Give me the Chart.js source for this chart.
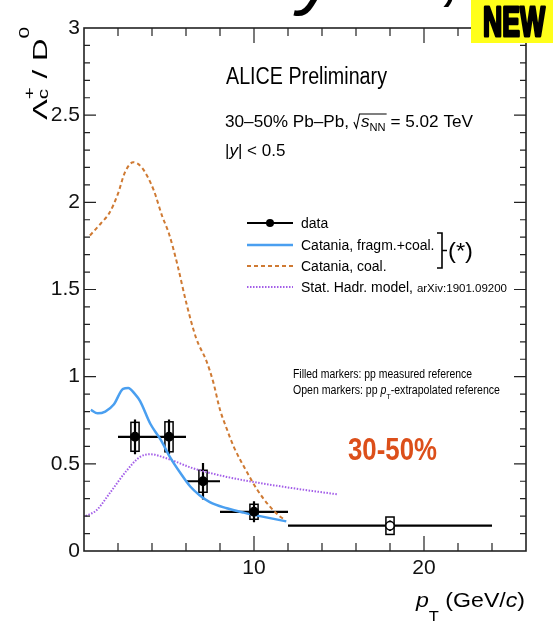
<!DOCTYPE html>
<html>
<head>
<meta charset="utf-8">
<script src="https://cdn.jsdelivr.net/npm/chart.js@4.4.1/dist/chart.umd.min.js"></script>
<style>
  html, body { margin: 0; padding: 0; background: #fff; }
  #wrap { width: 559px; height: 625px; position: relative; }
</style>
</head>
<body>
<div id="wrap"><canvas id="ratioChart"></canvas></div>
<script>
// measured Lambda_c+/D0, 30-50% Pb-Pb
const ptCenter = [3, 5, 7, 10, 18];
const ptLow = [2, 4, 6, 8, 12];
const ptHigh = [4, 6, 8, 12, 24];
const ratio = [0.655, 0.655, 0.40, 0.225, 0.145];
const statErr = [0.10, 0.10, 0.105, 0.06, 0.03];
const systErr = [0.083, 0.086, 0.063, 0.043, 0.05];
const extrapolatedRef = [false, false, false, false, true];

// Catania, fragmentation + coalescence
const fragCoalPt = [0.4, 0.8, 1.25, 1.75, 2.3, 2.6, 3.0, 3.3, 3.9, 4.5, 5.05, 5.65, 6.25, 6.8, 7.4, 8.4, 9.4, 10.35, 11.9];
const fragCoalRatio = [0.81, 0.79, 0.80, 0.84, 0.93, 0.935, 0.90, 0.86, 0.73, 0.64, 0.54, 0.45, 0.37, 0.32, 0.28, 0.245, 0.22, 0.20, 0.17];

// Catania, coalescence only
const coalPt = [0.35, 1.0, 1.5, 2.0, 2.4, 2.9, 3.4, 4.1, 4.6, 5.0, 5.5, 6.0, 6.6, 7.2, 7.6, 8.0, 8.4, 8.8, 9.6, 10.2, 10.8, 11.5, 11.8];
const coalRatio = [1.81, 1.88, 1.94, 2.05, 2.17, 2.23, 2.20, 2.07, 1.92, 1.82, 1.64, 1.43, 1.22, 1.09, 0.97, 0.81, 0.70, 0.60, 0.45, 0.35, 0.27, 0.20, 0.18];

// Stat. hadronisation model
const shmPt = [0.1, 0.75, 1.5, 2.5, 3.3, 3.9, 4.9, 6.4, 8.4, 10.35, 12.3, 14.9];
const shmRatio = [0.20, 0.235, 0.33, 0.46, 0.54, 0.555, 0.53, 0.475, 0.425, 0.39, 0.36, 0.325];

const xMajorTicks = [10, 20];
const yMajorTicks = [0, 0.5, 1, 1.5, 2, 2.5, 3];

const FONT = '"Liberation Sans", Arial, sans-serif';
const fragCoalColor = '#4a9ff0';
const coalColor = '#cf7a33';
const shmColor = '#a35ee8';

const xy = (xs, ys) => xs.map((x, i) => ({x: x, y: ys[i]}));

// text made of pieces with their own font / vertical shift, optionally squeezed to a width
function drawRich(ctx, x, y, parts, fitWidth) {
    let natural = 0;
    parts.forEach(p => {
        if (p.rad) { p.w = p.rad; }
        else { ctx.font = p.font; p.w = ctx.measureText(p.text).width; }
        if (p.adv !== undefined) p.w = p.adv;
        natural += p.w;
    });
    const sx = fitWidth ? fitWidth / natural : 1;
    ctx.save();
    ctx.translate(x, y);
    ctx.scale(sx, 1);
    ctx.textBaseline = 'alphabetic';
    ctx.textAlign = 'left';
    let cx = 0;
    parts.forEach((p, i) => {
        if (p.rad) {
            let over = 0;
            for (let k = 1; k <= p.span; k++) over += parts[i + k].w;
            ctx.strokeStyle = '#000';
            ctx.lineWidth = 1.1;
            ctx.beginPath();
            ctx.moveTo(cx, -5);
            ctx.lineTo(cx + 2.5, 1);
            ctx.lineTo(cx + 5.5, -13);
            ctx.lineTo(cx + p.rad + over + 1, -13);
            ctx.stroke();
        } else {
            ctx.font = p.font;
            ctx.fillStyle = p.color || '#000';
            ctx.fillText(p.text, cx, p.dy || 0);
        }
        cx += p.w;
    });
    ctx.restore();
}

// ROOT-like frame with inward ticks on all four sides
const rootFrame = {
    id: 'rootFrame',
    afterDatasetsDraw(chart) {
        const {ctx, chartArea: a, scales: {x, y}} = chart;
        ctx.save();
        ctx.strokeStyle = '#222';
        ctx.lineWidth = 1.2;
        ctx.beginPath();
        x.ticks.forEach(t => {
            const px = x.getPixelForValue(t.value);
            if (px <= a.left + 1 || px >= a.right - 1) return;
            const len = xMajorTicks.includes(t.value) ? 15 : 8;
            ctx.moveTo(px, a.bottom); ctx.lineTo(px, a.bottom - len);
            ctx.moveTo(px, a.top); ctx.lineTo(px, a.top + len);
        });
        y.ticks.forEach(t => {
            const py = y.getPixelForValue(t.value);
            if (py <= a.top + 1 || py >= a.bottom - 1) return;
            const major = yMajorTicks.includes(Math.round(t.value * 10) / 10);
            const len = major ? 12 : 6;
            ctx.moveTo(a.left, py); ctx.lineTo(a.left + len, py);
            ctx.moveTo(a.right, py); ctx.lineTo(a.right - len, py);
        });
        ctx.stroke();
        ctx.lineWidth = 1.6;
        ctx.strokeRect(a.left, a.top, a.right - a.left, a.bottom - a.top);
        ctx.restore();
    }
};

// bin widths, statistical bars and systematic boxes of the data points
const boxHalfWidth = 0.24;
const dataErrors = {
    id: 'dataErrors',
    beforeDatasetsDraw(chart) {
        const {ctx, scales: {x, y}} = chart;
        ctx.save();
        ctx.strokeStyle = '#000';
        ptCenter.forEach((pt, i) => {
            const cx = x.getPixelForValue(pt);
            const cy = y.getPixelForValue(ratio[i]);
            ctx.lineWidth = 2.2;
            ctx.beginPath();
            ctx.moveTo(x.getPixelForValue(ptLow[i]), cy);
            ctx.lineTo(x.getPixelForValue(ptHigh[i]), cy);
            ctx.moveTo(cx, y.getPixelForValue(ratio[i] - statErr[i]));
            ctx.lineTo(cx, y.getPixelForValue(ratio[i] + statErr[i]));
            ctx.stroke();
            const bx0 = x.getPixelForValue(pt - boxHalfWidth);
            const bx1 = x.getPixelForValue(pt + boxHalfWidth);
            const by0 = y.getPixelForValue(ratio[i] + systErr[i]);
            const by1 = y.getPixelForValue(ratio[i] - systErr[i]);
            ctx.lineWidth = 1.5;
            ctx.strokeRect(bx0, by0, bx1 - bx0, by1 - by0);
        });
        ctx.restore();
    }
};

// legend, labels, axis titles
const annotations = {
    id: 'annotations',
    afterDraw(chart) {
        const ctx = chart.ctx;
        const F = (s, style) => (style ? style + ' ' : '') + s + 'px ' + FONT;

        drawRich(ctx, 226, 84, [{text: 'ALICE Preliminary', font: F(23)}], 161);
        drawRich(ctx, 225, 127, [
            {text: '30\u201350% Pb\u2013Pb, ', font: F(17)},
            {rad: 7, span: 2},
            {text: 's', font: F(17, 'italic')},
            {text: 'NN', font: F(11), dy: 4},
            {text: ' = 5.02 TeV', font: F(17)}
        ], 248);
        drawRich(ctx, 225, 156, [
            {text: '|', font: F(17)},
            {text: 'y', font: F(17, 'italic')},
            {text: '| < 0.5', font: F(17)}
        ]);

        // legend
        const rows = [223, 245, 266, 287];
        const lx0 = 247, lx1 = 293;
        ctx.save();
        ctx.lineWidth = 2;
        ctx.strokeStyle = '#000';
        ctx.beginPath(); ctx.moveTo(lx0, rows[0]); ctx.lineTo(lx1, rows[0]); ctx.stroke();
        ctx.fillStyle = '#000';
        ctx.beginPath(); ctx.arc((lx0 + lx1) / 2, rows[0], 4, 0, Math.PI * 2); ctx.fill();
        ctx.lineWidth = 2.5;
        ctx.strokeStyle = fragCoalColor;
        ctx.beginPath(); ctx.moveTo(lx0, rows[1]); ctx.lineTo(lx1, rows[1]); ctx.stroke();
        ctx.lineWidth = 2;
        ctx.strokeStyle = coalColor;
        ctx.setLineDash([4, 3]);
        ctx.beginPath(); ctx.moveTo(lx0, rows[2]); ctx.lineTo(lx1, rows[2]); ctx.stroke();
        ctx.strokeStyle = shmColor;
        ctx.setLineDash([1.5, 1.5]);
        ctx.beginPath(); ctx.moveTo(lx0, rows[3]); ctx.lineTo(lx1, rows[3]); ctx.stroke();
        ctx.setLineDash([]);
        ctx.restore();

        const tx = 301;
        drawRich(ctx, tx, rows[0] + 5, [{text: 'data', font: F(14)}]);
        drawRich(ctx, tx, rows[1] + 5, [{text: 'Catania, fragm.+coal.', font: F(14)}]);
        drawRich(ctx, tx, rows[2] + 5, [{text: 'Catania, coal.', font: F(14)}]);
        drawRich(ctx, tx, rows[3] + 5, [
            {text: 'Stat. Hadr. model, ', font: F(14)},
            {text: 'arXiv:1901.09200', font: F(11.5)}
        ], 206);

        // bracket grouping the two Catania curves
        ctx.save();
        ctx.strokeStyle = '#000';
        ctx.lineWidth = 1.6;
        ctx.beginPath();
        ctx.moveTo(437, 233); ctx.lineTo(442, 233); ctx.lineTo(442, 268); ctx.lineTo(437, 268);
        ctx.moveTo(442, 250.5); ctx.lineTo(447, 250.5);
        ctx.stroke();
        ctx.restore();
        drawRich(ctx, 448, 258, [{text: '(*)', font: F(22)}], 25);

        drawRich(ctx, 293, 378, [{text: 'Filled markers: pp measured reference', font: F(12)}], 179);
        drawRich(ctx, 293, 394, [
            {text: 'Open markers: pp ', font: F(12)},
            {text: 'p', font: F(12, 'italic')},
            {text: 'T', font: F(8), dy: 5},
            {text: '-extrapolated reference', font: F(12)}
        ], 207);

        drawRich(ctx, 348, 460, [{text: '30-50%', font: F(31, 'bold'), color: '#dc4f1a'}], 89);

        // axis titles
        drawRich(ctx, 416, 607, [
            {text: 'p', font: F(21, 'italic')},
            {text: 'T', font: F(15), dy: 14},
            {text: ' (GeV/', font: F(21)},
            {text: 'c', font: F(21, 'italic')},
            {text: ')', font: F(21)}
        ], 109);

        ctx.save();
        ctx.translate(47, 120);
        ctx.rotate(-Math.PI / 2);
        drawRich(ctx, 0, 0, [
            {text: '\u039b', font: F(21)},
            {text: 'c', font: F(14), dy: 1, adv: 0},
            {text: '+', font: F(14), dy: -13},
            {text: ' / D', font: F(21)},
            {text: '0', font: F(14), dy: -18}
        ], 93);
        ctx.restore();

        // slide header pieces above the frame
        ctx.save();
        ctx.fillStyle = '#000';
        ctx.font = 'italic 80px ' + FONT;
        ctx.fillText('y', 298, -1);
        ctx.fillText(',', 442, -3);
        ctx.restore();

        // "NEW" badge
        ctx.save();
        ctx.fillStyle = '#ffff1a';
        ctx.fillRect(471, 0, 82, 43);
        ctx.restore();
        ctx.save();
        ctx.translate(483, 36);
        ctx.font = 'bold 42px ' + FONT;
        const nw = ctx.measureText('NEW').width;
        ctx.scale(62 / nw, 1);
        ctx.fillStyle = '#000';
        ctx.strokeStyle = '#000';
        ctx.lineWidth = 3;
        ctx.lineJoin = 'round';
        ctx.fillText('NEW', 0, 0);
        ctx.strokeText('NEW', 0, 0);
        ctx.restore();
    }
};

const tickFont = {family: FONT, size: 21};

new Chart(document.getElementById('ratioChart'), {
    type: 'scatter',
    data: {
        datasets: [
            {
                label: 'data',
                data: xy(ptCenter, ratio),
                pointRadius: 4.2,
                pointBackgroundColor: extrapolatedRef.map(e => e ? '#fff' : '#000'),
                pointBorderColor: '#000',
                pointBorderWidth: 1.5,
                showLine: false
            },
            {
                label: 'Catania, fragm.+coal.',
                data: xy(fragCoalPt, fragCoalRatio),
                showLine: true,
                borderColor: fragCoalColor,
                borderWidth: 2.5,
                pointRadius: 0,
                cubicInterpolationMode: 'monotone'
            },
            {
                label: 'Catania, coal.',
                data: xy(coalPt, coalRatio),
                showLine: true,
                borderColor: coalColor,
                borderWidth: 2,
                borderDash: [4, 3],
                pointRadius: 0,
                cubicInterpolationMode: 'monotone'
            },
            {
                label: 'Stat. Hadr. model',
                data: xy(shmPt, shmRatio),
                showLine: true,
                borderColor: shmColor,
                borderWidth: 2,
                borderDash: [1.5, 1.5],
                pointRadius: 0,
                cubicInterpolationMode: 'monotone'
            }
        ]
    },
    options: {
        responsive: true,
        maintainAspectRatio: false,
        animation: false,
        events: [],
        layout: {padding: {top: 28, right: 33, left: 0, bottom: 0}},
        plugins: {
            legend: {display: false},
            tooltip: {enabled: false}
        },
        scales: {
            x: {
                type: 'linear',
                min: 0,
                max: 26,
                afterFit: s => { s.height = 74; },
                grid: {display: false, drawTicks: false},
                border: {display: false},
                ticks: {
                    stepSize: 2,
                    autoSkip: false,
                    maxRotation: 0,
                    padding: 5,
                    font: tickFont,
                    color: '#111',
                    callback: v => xMajorTicks.includes(v) ? String(v) : ''
                }
            },
            y: {
                min: 0,
                max: 3,
                afterFit: s => { s.width = 84; },
                grid: {display: false, drawTicks: false},
                border: {display: false},
                ticks: {
                    stepSize: 0.1,
                    autoSkip: false,
                    padding: 4,
                    font: tickFont,
                    color: '#111',
                    callback: v => {
                        const r = Math.round(v * 10) / 10;
                        return yMajorTicks.includes(r) ? String(r) : '';
                    }
                }
            }
        }
    },
    plugins: [dataErrors, rootFrame, annotations]
});
</script>
</body>
</html>
